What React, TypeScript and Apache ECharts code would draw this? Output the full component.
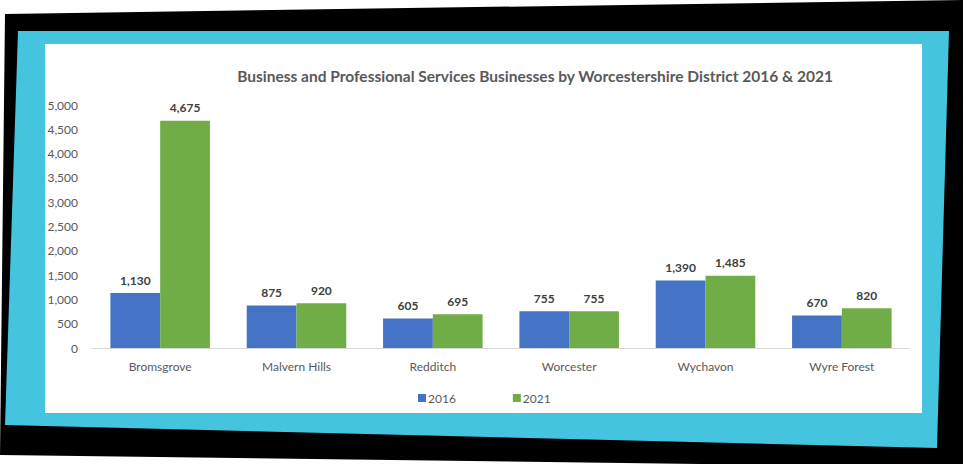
import React, { useEffect, useRef } from "react";
import * as echarts from "echarts";

const categories = ["Bromsgrove", "Malvern Hills", "Redditch", "Worcester", "Wychavon", "Wyre Forest"];
const values2016 = [1130, 875, 605, 755, 1390, 670];
const values2021 = [4675, 920, 695, 755, 1485, 820];
const seriesNames = ["2016", "2021"];
const titleText = "Business and Professional Services Businesses by Worcestershire District 2016 & 2021";

const FONT = "Lato, 'Open Sans', sans-serif";

export default function App() {
  const ref = useRef<HTMLDivElement>(null);
  useEffect(() => {
    document.body.style.margin = "0";
    const chart = echarts.init(ref.current!, undefined, { renderer: "svg" });
    const label = {
      show: true,
      position: "top",
      distance: 7,
      fontFamily: FONT,
      fontWeight: "bold",
      fontSize: 12,
      color: "#404040",
      formatter: (p: any) => Number(p.value).toLocaleString("en-US"),
    };
    chart.setOption({
      animation: false,
      backgroundColor: "#ffffff",
      graphic: [
        {
          type: "polygon",
          z: -10,
          shape: { points: [[5, 14], [963, 0], [963, 464], [700, 464], [0, 455]] },
          style: { fill: "#000000" },
        },
        {
          type: "polygon",
          z: -9,
          shape: { points: [[18, 31], [949, 31], [937, 448], [5, 425]] },
          style: { fill: "#45C4E0" },
        },
        {
          type: "rect",
          z: -8,
          shape: { x: 45, y: 44, width: 877, height: 369 },
          style: { fill: "#ffffff" },
        },
      ],
      title: {
        text: titleText,
        left: 530,
        textAlign: "center",
        top: 63,
        textStyle: { fontFamily: FONT, fontWeight: "bold", fontSize: 15.5, color: "#595959" },
      },
      legend: {
        data: seriesNames,
        left: 413,
        top: 387,
        itemWidth: 8,
        itemHeight: 8,
        itemGap: 57,
        icon: "rect",
        textStyle: { fontFamily: FONT, fontSize: 12, color: "#595959", padding: [0, 0, 0, -3] },
      },
      grid: { left: 92, right: 53, top: 105, bottom: 116, containLabel: false },
      xAxis: {
        type: "category",
        data: categories,
        axisTick: { show: false },
        axisLine: { lineStyle: { color: "#D9D9D9" } },
        axisLabel: { fontFamily: FONT, fontSize: 12, color: "#595959", margin: 12 },
      },
      yAxis: {
        type: "value",
        min: 0,
        max: 5000,
        interval: 500,
        splitLine: { show: false },
        axisLabel: {
          fontFamily: FONT,
          fontSize: 12,
          color: "#595959",
          margin: 14,
          formatter: (v: number) => v.toLocaleString("en-US"),
        },
      },
      series: [
        {
          name: seriesNames[0],
          type: "bar",
          data: values2016,
          barGap: "0%",
          barCategoryGap: "27%",
          itemStyle: { color: "#4472C4" },
          label,
        },
        {
          name: seriesNames[1],
          type: "bar",
          data: values2021,
          barGap: "0%",
          barCategoryGap: "27%",
          itemStyle: { color: "#70AD47" },
          label,
        },
      ],
    });
    return () => chart.dispose();
  }, []);
  return <div ref={ref} style={{ position: "absolute", left: 0, top: 0, width: 963, height: 464 }} />;
}
